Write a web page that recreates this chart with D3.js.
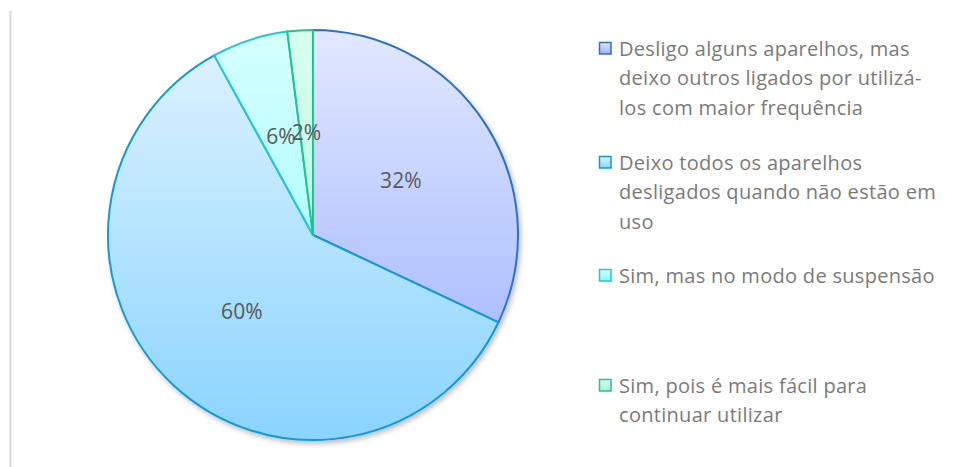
<!DOCTYPE html>
<html>
<head>
<meta charset="utf-8">
<script src="https://cdn.jsdelivr.net/npm/d3@7"></script>
<style>
  body { margin: 0; background: #fff; }
  svg { display: block; font-family: "Open Sans", sans-serif; }
</style>
</head>
<body>
<div id="chart"></div>
<script>
// values
const categories = [
    "Desligo alguns aparelhos, mas deixo outros ligados por utilizá-los com maior frequência",
    "Deixo todos os aparelhos desligados quando não estão em uso",
    "Sim, mas no modo de suspensão",
    "Sim, pois é mais fácil para continuar utilizar"
];
const values = [32, 60, 6, 2];
// legend text broken the way it wraps in the picture
const legendLines = [
    ["Desligo alguns aparelhos, mas", "deixo outros ligados por utilizá-", "los com maior frequência"],
    ["Deixo todos os aparelhos", "desligados quando não estão em", "uso"],
    ["Sim, mas no modo de suspensão"],
    ["Sim, pois é mais fácil para", "continuar utilizar"]
];
const legendY = [48, 162, 275, 385];

const colTop = ["#e2e8ff", "#e0f3ff", "#d6ffff", "#d8fff0"];
const colBot = ["#98b0ff", "#8ad4ff", "#8ffcfc", "#a8f3d6"];
const strokes = ["#2f72c4", "#129ad2", "#22c8cf", "#22c48d"];

const width = 960, height = 467;
const cx = 313, cy = 235, r = 205;

const svg = d3.select("#chart")
    .append("svg")
    .attr("width", width)
    .attr("height", height);

const defs = svg.append("defs");

defs.append("filter")
    .attr("id", "shadow")
    .attr("x", "-10%").attr("y", "-10%")
    .attr("width", "130%").attr("height", "130%")
    .append("feDropShadow")
    .attr("dx", 2).attr("dy", 3)
    .attr("stdDeviation", 2.5)
    .attr("flood-color", "#000")
    .attr("flood-opacity", 0.25);

// one vertical gradient per slice across the whole pie
categories.forEach((c, i) => {
    const g = defs.append("linearGradient")
        .attr("id", "grad" + i)
        .attr("gradientUnits", "userSpaceOnUse")
        .attr("x1", 0).attr("x2", 0)
        .attr("y1", -r).attr("y2", r);
    g.append("stop").attr("offset", "0%").attr("stop-color", colTop[i]);
    g.append("stop").attr("offset", "100%").attr("stop-color", colBot[i]);

    const lg = defs.append("linearGradient")
        .attr("id", "lgrad" + i)
        .attr("x1", 0).attr("x2", 0)
        .attr("y1", 0).attr("y2", 1);
    lg.append("stop").attr("offset", "0%").attr("stop-color", colTop[i]);
    lg.append("stop").attr("offset", "100%").attr("stop-color", colBot[i]);
});

// left frame line
svg.append("line")
    .attr("x1", 10.5).attr("x2", 10.5)
    .attr("y1", 11).attr("y2", 467)
    .attr("stroke", "#d9d9d9")
    .attr("stroke-width", 2);

const data = categories.map((c, i) => ({ name: c, value: values[i], i: i }));

const pie = d3.pie()
    .value(d => d.value)
    .sort(null);

const arcs = pie(data);

const arc = d3.arc()
    .innerRadius(0)
    .outerRadius(r);

const labelArc = d3.arc()
    .innerRadius(104)
    .outerRadius(104);

const g = svg.append("g")
    .attr("transform", `translate(${cx},${cy})`);

g.append("g")
    .attr("filter", "url(#shadow)")
    .selectAll("path")
    .data(arcs)
    .join("path")
    .attr("d", arc)
    .attr("fill", d => `url(#grad${d.data.i})`)
    .attr("stroke", d => strokes[d.data.i])
    .attr("stroke-width", 2)
    .attr("stroke-linejoin", "round");

g.selectAll(".label")
    .data(arcs)
    .join("text")
    .attr("class", "label")
    .attr("transform", d => `translate(${labelArc.centroid(d)})`)
    .attr("text-anchor", "middle")
    .attr("dy", "0.4em")
    .style("font-size", "21px")
    .style("fill", "#595959")
    .text(d => d.data.value + "%");

// legend
const legend = svg.append("g");

const items = legend.selectAll(".legend")
    .data(data)
    .join("g")
    .attr("class", "legend")
    .attr("transform", d => `translate(599,${legendY[d.i]})`);

items.append("rect")
    .attr("x", 0.5).attr("y", -5.5)
    .attr("width", 11.5).attr("height", 11.5)
    .attr("fill", d => `url(#lgrad${d.i})`)
    .attr("stroke", d => strokes[d.i])
    .attr("stroke-width", 1.5);

items.append("text")
    .style("font-size", "20px")
    .style("letter-spacing", "0.3px")
    .style("fill", "#7a7a7a")
    .selectAll("tspan")
    .data(d => legendLines[d.i])
    .join("tspan")
    .attr("x", 20)
    .attr("y", (d, j) => j * 29.8)
    .attr("dy", "0.38em")
    .text(d => d);
</script>
</body>
</html>
